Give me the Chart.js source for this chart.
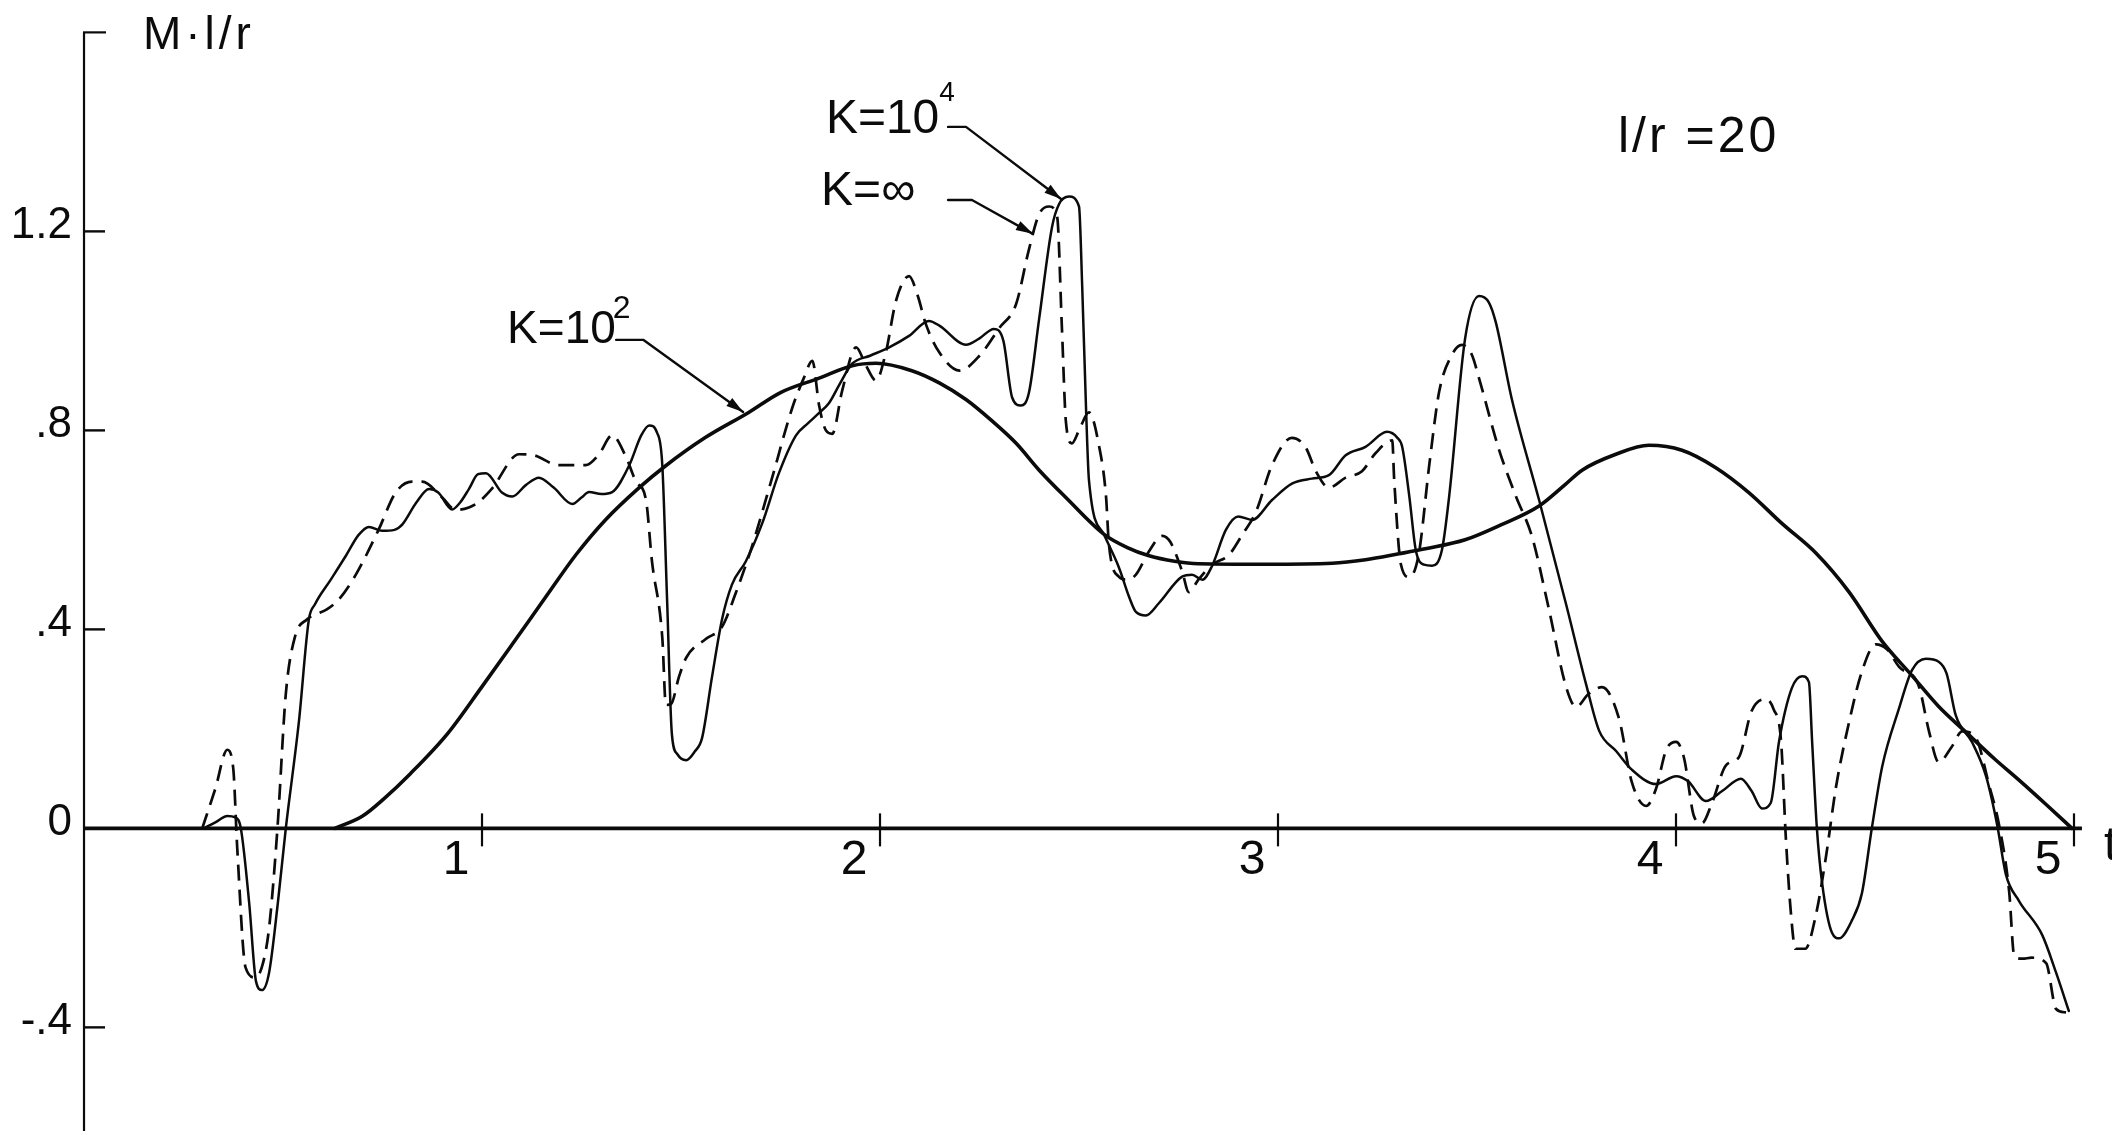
<!DOCTYPE html>
<html><head><meta charset="utf-8">
<script src="https://cdn.jsdelivr.net/npm/chart.js@4.4.1/dist/chart.umd.min.js"></script>
<style>html,body{margin:0;padding:0;background:#fff;overflow:hidden}canvas{display:block}</style>
</head><body>
<canvas id="c" width="2112" height="1131"></canvas>
<script>
// ---- data (t, M·l/r) ----
const k2X = [0.63,0.70,0.754,0.82,0.913,1.0,1.076,1.16,1.236,1.31,1.395,1.46,1.56,1.67,1.75,1.847,1.93,1.99,2.08,2.15,2.216,2.28,2.342,2.40,2.467,2.563,2.62,2.676,2.74,2.8,2.97,3.136,3.22,3.304,3.37,3.47,3.56,3.656,3.72,3.764,3.849,3.932,4.015,4.1,4.183,4.266,4.352,4.435,4.518,4.593,4.66,4.729,4.80,4.862,4.93,4.995];
const k2Y = [0,0.025,0.06,0.11,0.19,0.285,0.37,0.465,0.55,0.62,0.685,0.728,0.785,0.836,0.876,0.905,0.93,0.935,0.92,0.895,0.862,0.82,0.774,0.72,0.665,0.591,0.565,0.548,0.537,0.532,0.531,0.533,0.54,0.552,0.562,0.58,0.61,0.648,0.69,0.72,0.752,0.77,0.76,0.725,0.675,0.613,0.553,0.475,0.376,0.307,0.245,0.193,0.14,0.097,0.048,0];

const k4X = [0.30,0.33,0.36,0.38,0.394,0.415,0.432,0.447,0.465,0.487,0.507,0.54,0.565,0.58,0.62,0.658,0.69,0.716,0.749,0.78,0.80,0.835,0.867,0.89,0.925,0.945,0.967,0.99,1.01,1.05,1.076,1.11,1.143,1.18,1.227,1.25,1.269,1.30,1.327,1.37,1.40,1.42,1.44,1.453,1.465,1.477,1.49,1.513,1.535,1.553,1.578,1.603,1.628,1.663,1.704,1.746,1.789,1.82,1.847,1.872,1.90,1.93,1.975,2.023,2.073,2.123,2.15,2.216,2.25,2.286,2.31,2.332,2.354,2.374,2.40,2.432,2.45,2.475,2.50,2.508,2.518,2.525,2.563,2.60,2.626,2.643,2.668,2.70,2.759,2.784,2.81,2.834,2.869,2.90,2.935,2.985,3.035,3.085,3.128,3.17,3.22,3.274,3.30,3.312,3.33,3.346,3.367,3.387,3.412,3.43,3.47,3.505,3.53,3.547,3.588,3.656,3.724,3.774,3.807,3.85,3.889,3.95,4.0,4.03,4.075,4.116,4.163,4.19,4.216,4.238,4.259,4.291,4.317,4.334,4.342,4.354,4.367,4.392,4.41,4.442,4.467,4.492,4.518,4.56,4.593,4.628,4.66,4.68,4.703,4.744,4.779,4.807,4.829,4.862,4.92,4.955,4.987];
const k4Y = [0,0.012,0.025,0.022,0,-0.15,-0.307,-0.325,-0.29,-0.15,0,0.215,0.42,0.45,0.50,0.548,0.59,0.606,0.598,0.60,0.611,0.655,0.682,0.675,0.641,0.655,0.682,0.712,0.714,0.675,0.667,0.69,0.705,0.685,0.652,0.665,0.676,0.672,0.676,0.73,0.79,0.81,0.795,0.73,0.46,0.19,0.15,0.137,0.155,0.182,0.305,0.42,0.49,0.537,0.613,0.714,0.79,0.815,0.835,0.855,0.895,0.934,0.95,0.967,0.99,1.02,1.01,0.972,0.985,1.004,0.98,0.866,0.85,0.875,1.025,1.208,1.255,1.27,1.25,1.09,0.836,0.70,0.59,0.525,0.465,0.435,0.428,0.452,0.506,0.51,0.50,0.527,0.60,0.627,0.62,0.66,0.693,0.703,0.71,0.75,0.767,0.797,0.785,0.767,0.667,0.56,0.53,0.528,0.56,0.667,0.984,1.07,1.057,1.018,0.861,0.66,0.45,0.29,0.196,0.155,0.118,0.089,0.105,0.095,0.055,0.075,0.10,0.075,0.04,0.051,0.175,0.282,0.306,0.294,0.175,0,-0.109,-0.21,-0.221,-0.185,-0.131,0,0.124,0.24,0.318,0.341,0.335,0.311,0.227,0.173,0.105,0.007,-0.093,-0.146,-0.214,-0.29,-0.367];

const kInfX = [0.297,0.33,0.36,0.375,0.385,0.406,0.431,0.45,0.465,0.486,0.507,0.53,0.56,0.582,0.61,0.64,0.683,0.74,0.783,0.824,0.85,0.9,0.934,0.967,0.99,1.025,1.093,1.13,1.193,1.26,1.294,1.327,1.36,1.387,1.412,1.427,1.453,1.462,1.475,1.495,1.513,1.563,1.603,1.638,1.678,1.729,1.779,1.809,1.83,1.847,1.864,1.88,1.905,1.94,1.965,1.99,2.015,2.04,2.073,2.095,2.115,2.148,2.2,2.25,2.3,2.342,2.374,2.40,2.425,2.445,2.457,2.467,2.482,2.50,2.525,2.55,2.568,2.575,2.60,2.62,2.643,2.676,2.709,2.73,2.759,2.776,2.80,2.834,2.877,2.91,2.945,2.985,3.035,3.07,3.095,3.128,3.17,3.211,3.246,3.287,3.292,3.309,3.33,3.354,3.38,3.405,3.437,3.462,3.487,3.505,3.555,3.598,3.638,3.68,3.724,3.749,3.78,3.814,3.857,3.889,3.925,3.95,3.975,4.0,4.02,4.045,4.065,4.09,4.126,4.158,4.19,4.226,4.245,4.264,4.276,4.289,4.30,4.325,4.352,4.377,4.402,4.435,4.467,4.502,4.53,4.56,4.61,4.636,4.66,4.693,4.719,4.754,4.786,4.812,4.837,4.85,4.87,4.894,4.93,4.955,4.98];
const kInfY = [0,0.08,0.158,0.12,-0.04,-0.28,-0.30,-0.27,-0.2,0,0.27,0.385,0.42,0.43,0.44,0.46,0.51,0.60,0.675,0.697,0.697,0.665,0.64,0.645,0.655,0.683,0.752,0.75,0.73,0.73,0.752,0.79,0.75,0.697,0.66,0.537,0.383,0.248,0.25,0.305,0.343,0.381,0.405,0.474,0.566,0.705,0.844,0.906,0.94,0.85,0.80,0.793,0.88,0.967,0.93,0.90,0.958,1.06,1.11,1.07,1.014,0.958,0.92,0.95,1.006,1.054,1.163,1.235,1.25,1.23,1.007,0.818,0.774,0.80,0.836,0.77,0.666,0.572,0.506,0.50,0.51,0.557,0.588,0.575,0.517,0.475,0.50,0.53,0.55,0.59,0.637,0.73,0.785,0.765,0.718,0.685,0.705,0.718,0.755,0.78,0.70,0.53,0.505,0.553,0.73,0.878,0.952,0.972,0.952,0.905,0.762,0.667,0.587,0.443,0.284,0.244,0.27,0.284,0.22,0.093,0.045,0.08,0.157,0.174,0.142,0.025,0.01,0.05,0.127,0.143,0.236,0.26,0.24,0.175,-0.019,-0.173,-0.242,-0.242,-0.172,-0.056,0.083,0.214,0.315,0.37,0.36,0.325,0.286,0.194,0.133,0.164,0.195,0.181,0.089,0.006,-0.126,-0.257,-0.262,-0.26,-0.271,-0.363,-0.37];

const xTickValues = [1,2,3,4,5];
const xTickLabels = ['1','2','3','4','5'];
const yTickValues = [-0.4,0,0.4,0.8,1.2];
const yTickLabels = ['-.4','0','.4','.8','1.2'];
const xAxisTitle = 't';

// ---- layout / styles ----
const ink = '#0b0b0b';
const FONT = '"Liberation Sans", Arial, Helvetica, sans-serif';
const xAxisEnd = 5.02, yAxisTop = 1.6;

const labelSpecs = [
  {text:'M\u00B7l/r', x:0.148, y:1.567, size:46, spacing:4},
  {text:'K=10', sup:'2', x:1.063, y:0.976, size:46, supSize:32, supDx:-3, supRaise:25},
  {text:'K=10', sup:'4', x:1.864, y:1.398, size:48, supSize:28, supDx:0, supRaise:32},
  {text:'K=\u221E', x:1.852, y:1.253, size:48},
  {text:'l/r =20', x:3.854, y:1.36, size:50, spacing:3}
];
const leaderSpecs = [
  [[1.337,0.982],[1.405,0.982],[1.656,0.837]],
  [[2.171,1.41],[2.216,1.41],[2.455,1.265]],
  [[2.171,1.263],[2.231,1.263],[2.384,1.195]]
];

const toPts = (xs, ys) => xs.map((x, i) => ({x, y: ys[i]}));

const paperAxes = {
  id: 'paperAxes',
  beforeDatasetsDraw(chart) {
    const {ctx, scales:{x, y}} = chart;
    const X = v => x.getPixelForValue(v), Y = v => y.getPixelForValue(v);
    ctx.save();
    ctx.strokeStyle = ink; ctx.fillStyle = ink;
    ctx.lineWidth = 3.6;
    ctx.beginPath(); ctx.moveTo(X(0), Y(0)); ctx.lineTo(X(xAxisEnd), Y(0)); ctx.stroke();
    ctx.lineWidth = 2.2;
    ctx.beginPath(); ctx.moveTo(X(0), Y(yAxisTop)); ctx.lineTo(X(0), Y(y.min)); ctx.stroke();
    ctx.beginPath(); ctx.moveTo(X(0) - 1, Y(yAxisTop)); ctx.lineTo(X(0) + 22, Y(yAxisTop)); ctx.stroke();
    ctx.lineWidth = 2.4;
    yTickValues.forEach(v => {
      if (v === 0) return;
      ctx.beginPath(); ctx.moveTo(X(0), Y(v)); ctx.lineTo(X(0) + 21, Y(v)); ctx.stroke();
    });
    ctx.lineWidth = 2.2;
    xTickValues.forEach(v => {
      ctx.beginPath(); ctx.moveTo(X(v), Y(0) - 15); ctx.lineTo(X(v), Y(0) + 18); ctx.stroke();
    });
    ctx.font = '44px ' + FONT;
    ctx.textAlign = 'right'; ctx.textBaseline = 'alphabetic';
    yTickValues.forEach((v, i) => ctx.fillText(yTickLabels[i], X(0) - 12, Y(v) + 7));
    ctx.font = '48px ' + FONT;
    ctx.textAlign = 'center';
    xTickValues.forEach((v, i) => ctx.fillText(xTickLabels[i], X(v) - 26, Y(0) + 46));
    ctx.textAlign = 'left';
    ctx.fillText(xAxisTitle, X(x.max) - 8, Y(0) + 32);
    ctx.restore();
  },
  afterDatasetsDraw(chart) {
    const {ctx, scales:{x, y}} = chart;
    const X = v => x.getPixelForValue(v), Y = v => y.getPixelForValue(v);
    ctx.save();
    ctx.strokeStyle = ink; ctx.fillStyle = ink;
    ctx.textAlign = 'left'; ctx.textBaseline = 'alphabetic';
    labelSpecs.forEach(s => {
      ctx.font = s.size + 'px ' + FONT;
      if ('letterSpacing' in ctx) ctx.letterSpacing = (s.spacing || 0) + 'px';
      const px = X(s.x), py = Y(s.y);
      ctx.fillText(s.text, px, py);
      const w = ctx.measureText(s.text).width;
      if (s.sup) {
        ctx.font = s.supSize + 'px ' + FONT;
        ctx.fillText(s.sup, px + w + s.supDx, py - s.supRaise);
      }
    });
    if ('letterSpacing' in ctx) ctx.letterSpacing = '0px';
    ctx.lineWidth = 2.4; ctx.lineJoin = 'round'; ctx.lineCap = 'round';
    leaderSpecs.forEach(pts => {
      ctx.beginPath();
      pts.forEach((p, i) => i ? ctx.lineTo(X(p[0]), Y(p[1])) : ctx.moveTo(X(p[0]), Y(p[1])));
      ctx.stroke();
      const a = pts[pts.length - 2], b = pts[pts.length - 1];
      const ax = X(a[0]), ay = Y(a[1]), bx = X(b[0]), by = Y(b[1]);
      const ang = Math.atan2(by - ay, bx - ax);
      const L = 17, H = 5;
      ctx.beginPath();
      ctx.moveTo(bx, by);
      ctx.lineTo(bx - L * Math.cos(ang) + H * Math.sin(ang), by - L * Math.sin(ang) - H * Math.cos(ang));
      ctx.lineTo(bx - L * Math.cos(ang) - H * Math.sin(ang), by - L * Math.sin(ang) + H * Math.cos(ang));
      ctx.closePath(); ctx.fill();
    });
    ctx.restore();
  }
};

const base = {pointRadius:0, fill:false, cubicInterpolationMode:'monotone', borderColor:ink, borderJoinStyle:'round', borderCapStyle:'round'};

new Chart(document.getElementById('c'), {
  type: 'line',
  data: {
    datasets: [
      Object.assign({label:'K=10\u00B2', data: toPts(k2X, k2Y), borderWidth:3.6}, base),
      Object.assign({label:'K=10\u2074', data: toPts(k4X, k4Y), borderWidth:2.5}, base),
      Object.assign({label:'K=\u221E', data: toPts(kInfX, kInfY), borderWidth:2.7, borderDash:[16,9]}, base, {borderCapStyle:'butt'})
    ]
  },
  options: {
    responsive: false,
    animation: false,
    devicePixelRatio: 1,
    events: [],
    layout: {padding: 0},
    scales: {
      x: {type:'linear', min:-0.2111, max:5.0955, display:false},
      y: {type:'linear', min:-0.6083, max:1.6651, display:false}
    },
    plugins: {legend:{display:false}, tooltip:{enabled:false}, title:{display:false}}
  },
  plugins: [paperAxes]
});
</script>
</body></html>
